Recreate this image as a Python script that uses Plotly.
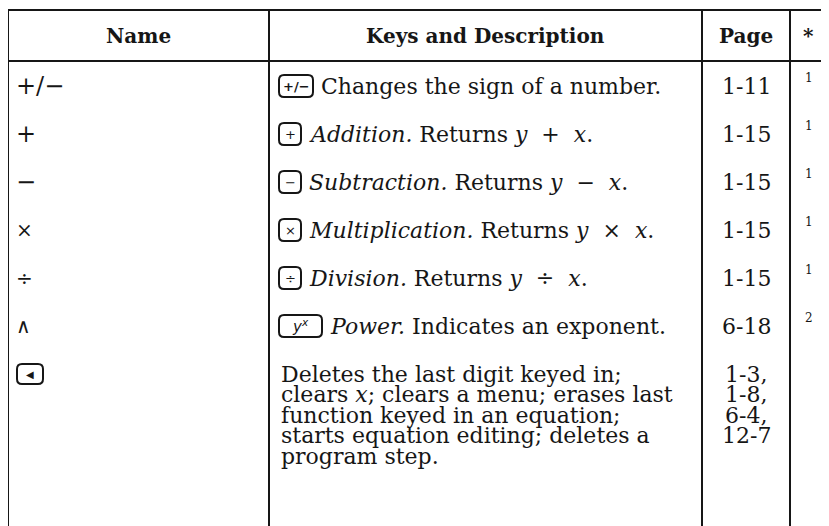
import plotly.graph_objects as go

# ---- data ----
headers = ["Name", "Keys and Description", "Page", "*"]
names = ["+/−", "+", "−", "×", "÷", "∧", ""]
name_sizes = [24, 24, 24, 20, 20, 20, 20]
name_keys = [None, None, None, None, None, None, "◀"]
keys = ["+/−", "+", "−", "×", "÷", "<i>y<sup>x</sup></i>", None]
key_widths = [34, 22, 22, 22, 22, 43, 0]
descriptions = [
    ["Changes the sign of a number."],
    ["<i>Addition.</i> Returns <i>y</i>  +  <i>x</i>."],
    ["<i>Subtraction.</i> Returns <i>y</i>  −  <i>x</i>."],
    ["<i>Multiplication.</i> Returns <i>y</i>  ×  <i>x</i>."],
    ["<i>Division.</i> Returns <i>y</i>  ÷  <i>x</i>."],
    ["<i>Power.</i> Indicates an exponent."],
    ["Deletes the last digit keyed in;",
     "clears <i>x</i>; clears a menu; erases last",
     "function keyed in an equation;",
     "starts equation editing; deletes a",
     "program step."],
]
pages = [["1-11"], ["1-15"], ["1-15"], ["1-15"], ["1-15"], ["6-18"],
         ["1-3,", "1-8,", "6-4,", "12-7"]]
notes = ["1", "1", "1", "1", "1", "2", ""]

# ---- layout constants ----
W, H = 829, 526
OFF = 8  # default page margin of the html body
col_edges = [8, 269, 702, 790, 827]
top, head_bottom = 10, 61
row0, row_pitch, line_pitch = 86, 48, 20.6
INK = "#161616"
FONT = "DejaVu Serif"
FS = 22

fig = go.Figure()
fig.add_trace(go.Scatter(x=[OFF, W], y=[OFF, H], mode="markers",
                         marker=dict(opacity=0), hoverinfo="skip", showlegend=False))

shapes = []
ann = []

def line(x0, y0, x1, y1, w=2):
    shapes.append(dict(type="line", x0=x0, y0=y0, x1=x1, y1=y1,
                       line=dict(color=INK, width=w), xref="x", yref="y"))

def rrect(x0, y0, x1, y1, r=5):
    p = (f"M{x0+r},{y0} L{x1-r},{y0} Q{x1},{y0} {x1},{y0+r} "
         f"L{x1},{y1-r} Q{x1},{y1} {x1-r},{y1} L{x0+r},{y1} Q{x0},{y1} {x0},{y1-r} "
         f"L{x0},{y0+r} Q{x0},{y0} {x0+r},{y0} Z")
    shapes.append(dict(type="path", path=p, line=dict(color=INK, width=2),
                       xref="x", yref="y"))

def text(x, y, s, size=FS, xanchor="left", family=FONT, bold=False):
    if bold:
        s = f"<b>{s}</b>"
    ann.append(dict(x=x, y=y, text=s, xref="x", yref="y", showarrow=False,
                    xanchor=xanchor, yanchor="middle",
                    font=dict(family=family, size=size, color=INK)))

# grid lines
line(col_edges[0], top, col_edges[-1], top)
line(col_edges[0], head_bottom, col_edges[-1], head_bottom)
for x in col_edges:
    line(x, top - 1, x, H + 2)

# headers
hy = (top + head_bottom) / 2
for i, h in enumerate(headers):
    cx = (col_edges[i] + col_edges[i + 1]) / 2
    text(cx, hy, h, size=20, xanchor="center", bold=True)

# body
for i in range(len(names)):
    cy = row0 + row_pitch * i
    # name column
    if names[i]:
        text(col_edges[0] + 6, cy, names[i], size=name_sizes[i])
    if name_keys[i]:
        rrect(col_edges[0] + 9, cy - 10, col_edges[0] + 35, cy + 10)
        text(col_edges[0] + 22, cy, name_keys[i], size=10, xanchor="center",
             family="DejaVu Sans")
    # keys and description
    dx = col_edges[1] + 10
    if keys[i]:
        kw = key_widths[i]
        rrect(dx, cy - 11, dx + kw, cy + 11)
        text(dx + kw / 2, cy, keys[i], size=13 if kw < 40 else 15,
             xanchor="center", family="DejaVu Sans", bold=(i == 0))
        dx = dx + kw + 6
    for j, s in enumerate(descriptions[i]):
        text(dx, cy + line_pitch * j, s)
    # page
    pcx = (col_edges[2] + col_edges[3]) / 2
    for j, s in enumerate(pages[i]):
        text(pcx, cy + line_pitch * j, s, xanchor="center")
    # note
    if notes[i]:
        text((col_edges[3] + col_edges[4]) / 2, cy - 8, notes[i], size=12,
             xanchor="center")

fig.update_layout(
    width=W - OFF, height=H - OFF, autosize=False,
    margin=dict(l=0, r=0, t=0, b=0),
    paper_bgcolor="white", plot_bgcolor="white",
    xaxis=dict(range=[OFF, W], visible=False, fixedrange=True),
    yaxis=dict(range=[H, OFF], visible=False, fixedrange=True),
    shapes=shapes, annotations=ann, showlegend=False,
)
fig.write_html("out.html")
